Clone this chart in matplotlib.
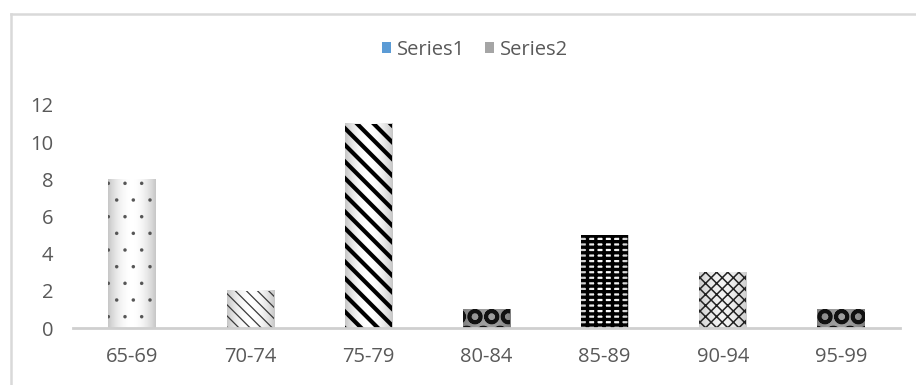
import numpy as np
import matplotlib
matplotlib.use("Agg")
import matplotlib.pyplot as plt
from matplotlib.lines import Line2D
from matplotlib.patches import Patch

categories = ["65-69", "70-74", "75-79", "80-84", "85-89", "90-94", "95-99"]
series2 = [8, 2, 11, 1, 5, 3, 1]
series_names = ["Series1", "Series2"]
y_ticks = [0, 2, 4, 6, 8, 10, 12]

# per-bar pattern fills: (hatch, hatch colour, hatch linewidth, background shade)
styles = [
    (".",       "#555555", 0.1, "light"),
    ("\\\\\\",  "#3a3a3a", 0.9, "light"),
    ("\\\\",    "#000000", 3.0, "light"),
    ("O",       "#111111", 2.6, "dark"),
    ("---||",   "#000000", 2.4, "light"),
    ("xxx",     "#222222", 1.1, "mid"),
    ("O",       "#111111", 2.6, "dark"),
]
shades = {"light": (1.0, -0.22), "mid": (0.95, -0.15), "dark": (0.62, -0.12)}

TEXT = "#595959"
plt.rcParams["font.family"] = ["Open Sans", "DejaVu Sans"]

fig = plt.figure(figsize=(9.16, 3.85), dpi=100)
W, H = 916, 385
ax = fig.add_axes([73 / W, (H - 328) / H, (900 - 73) / W, (328 - 105) / H])

x = np.arange(len(categories))
width = 0.4

grad = np.abs(np.linspace(-1, 1, 64)) ** 2
for xi, val, (hatch, hcol, hlw, bg) in zip(x, series2, styles):
    left, right = xi - width / 2, xi + width / 2
    base, amp = shades[bg]
    img = np.tile(base + amp * grad, (2, 1))
    ax.imshow(img, cmap="gray", vmin=0, vmax=1, aspect="auto",
              extent=(left, right, 0, val), zorder=1, interpolation="bilinear")
    with plt.rc_context({"hatch.linewidth": hlw}):
        bars = ax.bar(xi, val, width=width, facecolor="none", edgecolor=hcol,
                      hatch=hatch, linewidth=0, zorder=2)
    for b in bars:
        if hasattr(b, "set_hatch_linewidth"):
            b.set_hatch_linewidth(hlw)

ax.set_xlim(-0.5, len(categories) - 0.5)
ax.set_ylim(0, 12)
ax.set_yticks(y_ticks)
ax.set_xticks(x)
ax.set_xticklabels(categories)

for s in ["top", "right", "left"]:
    ax.spines[s].set_visible(False)
ax.spines["bottom"].set_color("#cfcfcf")
ax.spines["bottom"].set_linewidth(2)
ax.spines["bottom"].set_zorder(3)
ax.tick_params(axis="both", length=0, labelsize=14.5, colors=TEXT)
ax.tick_params(axis="y", pad=14)
ax.tick_params(axis="x", pad=14)
ax.set_facecolor("none")

handles = [Patch(facecolor="#5b9bd5", edgecolor="none"),
           Patch(facecolor="#a5a5a5", edgecolor="none")]
fig.legend(handles, series_names, loc="center", bbox_to_anchor=(475 / W, 1 - 50 / H),
           ncol=2, frameon=False, fontsize=14.5, labelcolor=TEXT,
           handlelength=0.45, handleheight=0.45, handletextpad=0.3, columnspacing=1.0)

# chart area border
fig.add_artist(Line2D([10.5 / W, 10.5 / W], [0, 1 - 13.5 / H], color="#d9d9d9", lw=1.8))
fig.add_artist(Line2D([10.5 / W, 1], [1 - 13.5 / H, 1 - 13.5 / H], color="#d9d9d9", lw=1.8))

fig.savefig("out.png", dpi=100, facecolor="white")
